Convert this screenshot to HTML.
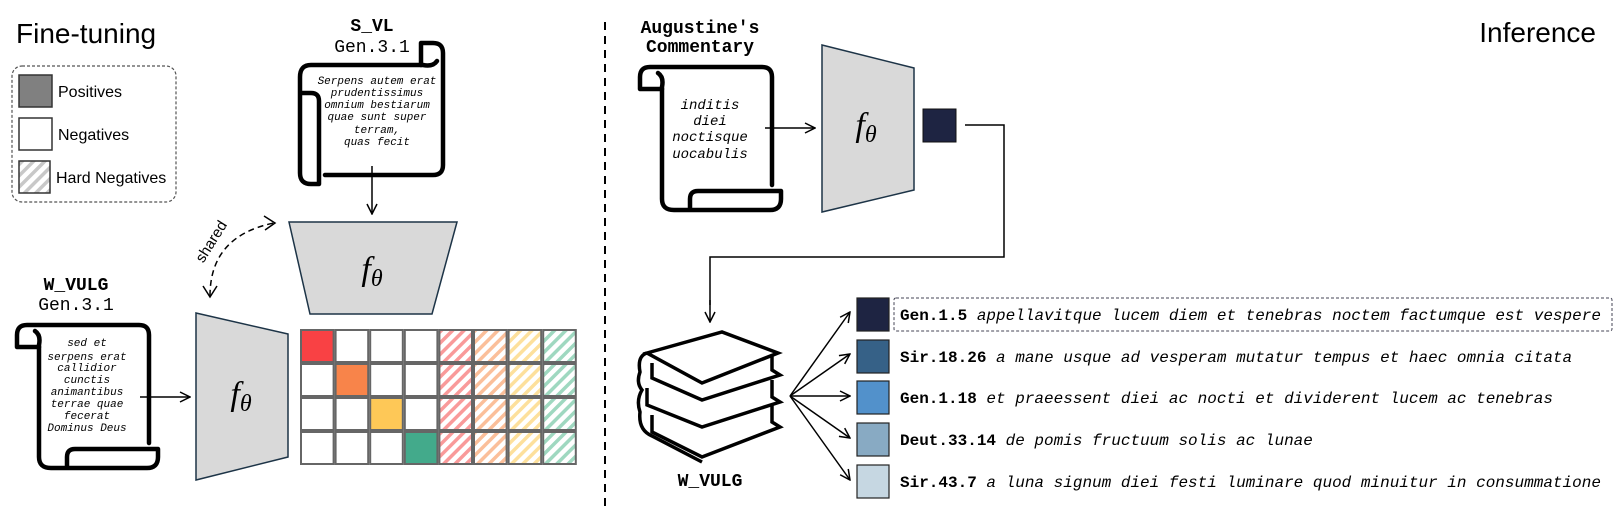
<!DOCTYPE html>
<html><head><meta charset="utf-8"><style>
html,body{margin:0;padding:0;background:#fff;}
svg{display:block;}
.mono{font-family:"Liberation Mono",monospace;}
.sans{font-family:"Liberation Sans",sans-serif;}
</style></head><body>
<svg width="1620" height="512" viewBox="0 0 1620 512" xmlns="http://www.w3.org/2000/svg">
<defs>
<marker id="ar" viewBox="0 0 12 12" refX="11" refY="6" markerWidth="12" markerHeight="12" markerUnits="userSpaceOnUse" orient="auto">
<path d="M1 1 L11 6 L1 11" fill="none" stroke="#000" stroke-width="1.5"/></marker>
<pattern id="hg" width="8" height="8" patternUnits="userSpaceOnUse" patternTransform="rotate(45)"><rect width="8" height="8" fill="#fff"/><rect width="3.5" height="8" fill="#c8c8c8"/></pattern>
<pattern id="hr" width="8" height="8" patternUnits="userSpaceOnUse" patternTransform="rotate(45)"><rect width="8" height="8" fill="#fff"/><rect width="3.5" height="8" fill="#f99a9a"/></pattern>
<pattern id="ho" width="8" height="8" patternUnits="userSpaceOnUse" patternTransform="rotate(45)"><rect width="8" height="8" fill="#fff"/><rect width="3.5" height="8" fill="#fbbf9a"/></pattern>
<pattern id="hy" width="8" height="8" patternUnits="userSpaceOnUse" patternTransform="rotate(45)"><rect width="8" height="8" fill="#fff"/><rect width="3.5" height="8" fill="#fde09c"/></pattern>
<pattern id="hn" width="8" height="8" patternUnits="userSpaceOnUse" patternTransform="rotate(45)"><rect width="8" height="8" fill="#fff"/><rect width="3.5" height="8" fill="#9fd8c0"/></pattern>
<g id="scroll" fill="none" stroke="#000" stroke-width="4.5" stroke-linejoin="round" stroke-linecap="round">
<path d="M26 24 H4 V12 Q4 2 14 2 H126 Q136 2 136 12 V120"/>
<path d="M22 8 Q28 12 26 22 V134 Q26 145 38 145 H134 Q145 145 145 134 V126 H62 Q54 126 54 134 V145"/>
</g>
</defs>

<line x1="605" y1="22" x2="605" y2="512" stroke="#000" stroke-width="2" stroke-dasharray="8,6"/>

<text x="16" y="43" class="sans" font-size="28">Fine-tuning</text>
<text x="1596" y="42" class="sans" font-size="28" text-anchor="end">Inference</text>

<rect x="12" y="66" width="164" height="136" rx="10" fill="#fff" stroke="#555" stroke-width="1.2" stroke-dasharray="3,2"/>
<rect x="19" y="75" width="33" height="32" fill="#808080" stroke="#333" stroke-width="1.5"/>
<rect x="19" y="118" width="33" height="32" fill="#fff" stroke="#333" stroke-width="1.5"/>
<rect x="19" y="161" width="31" height="32" fill="url(#hg)" stroke="#333" stroke-width="1.5"/>
<text x="58" y="97" class="sans" font-size="16">Positives</text>
<text x="58" y="140" class="sans" font-size="16">Negatives</text>
<text x="56" y="183" class="sans" font-size="16">Hard Negatives</text>

<!-- S_VL -->
<text x="372" y="31" class="mono" font-size="18" font-weight="bold" text-anchor="middle">S_VL</text>
<text x="372" y="52" class="mono" font-size="18" text-anchor="middle">Gen.3.1</text>
<use href="#scroll" transform="translate(445 39) rotate(90)"/>
<g class="mono" font-size="11" font-style="italic" text-anchor="middle">
<text x="377" y="84">Serpens autem erat</text>
<text x="377" y="96">prudentissimus</text>
<text x="377" y="108">omnium bestiarum</text>
<text x="377" y="120">quae sunt super</text>
<text x="377" y="133">terram,</text>
<text x="377" y="145">quas fecit</text>
</g>
<line x1="372" y1="166" x2="372" y2="214" stroke="#000" stroke-width="1.5" marker-end="url(#ar)"/>

<polygon points="289,222 457,222 432,314 310,314" fill="#d9d9d9" stroke="#1d3447" stroke-width="1.5"/>
<text x="372" y="280" font-family="Liberation Serif,serif" font-style="italic" font-size="34" text-anchor="middle">f<tspan font-size="24" dy="6">θ</tspan></text>

<path d="M210 296 Q210 236 274 223" fill="none" stroke="#000" stroke-width="1.5" stroke-dasharray="6,4"/>
<path d="M264 216 L275 223 L265 230" fill="none" stroke="#000" stroke-width="1.5"/>
<path d="M203 286 L210 297 L217 286" fill="none" stroke="#000" stroke-width="1.5"/>
<text x="212" y="246" class="sans" font-size="15" text-anchor="middle" transform="rotate(-58 212 242)">shared</text>

<text x="76" y="290" class="mono" font-size="18" font-weight="bold" text-anchor="middle">W_VULG</text>
<text x="76" y="310" class="mono" font-size="18" text-anchor="middle">Gen.3.1</text>
<use href="#scroll" transform="translate(13 323)"/>
<g class="mono" font-size="11" font-style="italic" text-anchor="middle">
<text x="87" y="346">sed et</text>
<text x="87" y="360">serpens erat</text>
<text x="87" y="371">callidior</text>
<text x="87" y="383">cunctis</text>
<text x="87" y="395">animantibus</text>
<text x="87" y="407">terrae quae</text>
<text x="87" y="419">fecerat</text>
<text x="87" y="431">Dominus Deus</text>
</g>
<line x1="140" y1="397" x2="190" y2="397" stroke="#000" stroke-width="1.5" marker-end="url(#ar)"/>

<polygon points="196,313 288,334 288,457 196,480" fill="#d9d9d9" stroke="#1d3447" stroke-width="1.5"/>
<text x="241" y="405" font-family="Liberation Serif,serif" font-style="italic" font-size="34" text-anchor="middle">f<tspan font-size="24" dy="6">θ</tspan></text>

<g stroke="#666" stroke-width="2">
<rect x="301" y="330" width="32.6" height="32" fill="#f94144"/>
<rect x="335.6" y="330" width="32.6" height="32" fill="#fff"/>
<rect x="370.2" y="330" width="32.6" height="32" fill="#fff"/>
<rect x="404.8" y="330" width="32.6" height="32" fill="#fff"/>
<rect x="301" y="364" width="32.6" height="32" fill="#fff"/>
<rect x="335.6" y="364" width="32.6" height="32" fill="#f8844a"/>
<rect x="370.2" y="364" width="32.6" height="32" fill="#fff"/>
<rect x="404.8" y="364" width="32.6" height="32" fill="#fff"/>
<rect x="301" y="398" width="32.6" height="32" fill="#fff"/>
<rect x="335.6" y="398" width="32.6" height="32" fill="#fff"/>
<rect x="370.2" y="398" width="32.6" height="32" fill="#fec857"/>
<rect x="404.8" y="398" width="32.6" height="32" fill="#fff"/>
<rect x="301" y="432" width="32.6" height="32" fill="#fff"/>
<rect x="335.6" y="432" width="32.6" height="32" fill="#fff"/>
<rect x="370.2" y="432" width="32.6" height="32" fill="#fff"/>
<rect x="404.8" y="432" width="32.6" height="32" fill="#43aa8b"/>
<rect x="439.4" y="330" width="32.6" height="32" fill="url(#hr)"/><rect x="474" y="330" width="32.6" height="32" fill="url(#ho)"/><rect x="508.6" y="330" width="32.6" height="32" fill="url(#hy)"/><rect x="543.2" y="330" width="32.6" height="32" fill="url(#hn)"/>
<rect x="439.4" y="364" width="32.6" height="32" fill="url(#hr)"/><rect x="474" y="364" width="32.6" height="32" fill="url(#ho)"/><rect x="508.6" y="364" width="32.6" height="32" fill="url(#hy)"/><rect x="543.2" y="364" width="32.6" height="32" fill="url(#hn)"/>
<rect x="439.4" y="398" width="32.6" height="32" fill="url(#hr)"/><rect x="474" y="398" width="32.6" height="32" fill="url(#ho)"/><rect x="508.6" y="398" width="32.6" height="32" fill="url(#hy)"/><rect x="543.2" y="398" width="32.6" height="32" fill="url(#hn)"/>
<rect x="439.4" y="432" width="32.6" height="32" fill="url(#hr)"/><rect x="474" y="432" width="32.6" height="32" fill="url(#ho)"/><rect x="508.6" y="432" width="32.6" height="32" fill="url(#hy)"/><rect x="543.2" y="432" width="32.6" height="32" fill="url(#hn)"/>
</g>

<text x="700" y="33" class="mono" font-size="18" font-weight="bold" text-anchor="middle">Augustine's</text>
<text x="700" y="52" class="mono" font-size="18" font-weight="bold" text-anchor="middle">Commentary</text>
<use href="#scroll" transform="translate(636 65)"/>
<g class="mono" font-size="14" font-style="italic" text-anchor="middle">
<text x="710" y="109">inditis</text>
<text x="710" y="125">diei</text>
<text x="710" y="141">noctisque</text>
<text x="710" y="158">uocabulis</text>
</g>
<line x1="765" y1="128" x2="815" y2="128" stroke="#000" stroke-width="1.5" marker-end="url(#ar)"/>
<polygon points="822,45 914,68 914,190 822,212" fill="#d9d9d9" stroke="#1d3447" stroke-width="1.5"/>
<text x="866" y="136" font-family="Liberation Serif,serif" font-style="italic" font-size="34" text-anchor="middle">f<tspan font-size="24" dy="6">θ</tspan></text>
<rect x="923" y="109" width="33" height="33" fill="#1e2442" stroke="#111" stroke-width="1"/>
<polyline points="965,125 1004,125 1004,257 710,257 710,305" fill="none" stroke="#000" stroke-width="1.5"/>
<line x1="710" y1="300" x2="710" y2="322" stroke="#000" stroke-width="1.5" marker-end="url(#ar)"/>

<g fill="#fff" stroke="#000" stroke-width="3.5" stroke-linejoin="miter">
<path d="M652 415 L652 432 L702 457 L780 427 L772 422 L772 405"/>
<path d="M647 388 L647 405 L702 427 L780 402 L772 397 L772 380"/>
<path d="M652 363 L652 378 L702 400 L780 375 L772 370 L772 353"/>
<polygon points="647,353 722,332 778,353 702,383"/>
<path d="M647 353 Q637 356 640 372 Q636 383 642 390 Q636 400 640 412 Q638 430 652 436 L702 462" fill="none"/>
</g>
<text x="710" y="486" class="mono" font-size="18" font-weight="bold" text-anchor="middle">W_VULG</text>

<g stroke="#000" stroke-width="1.5">
<line x1="790" y1="396" x2="850" y2="312" marker-end="url(#ar)"/>
<line x1="790" y1="396" x2="850" y2="354" marker-end="url(#ar)"/>
<line x1="790" y1="396" x2="850" y2="396" marker-end="url(#ar)"/>
<line x1="790" y1="396" x2="850" y2="438" marker-end="url(#ar)"/>
<line x1="790" y1="396" x2="850" y2="480" marker-end="url(#ar)"/>
</g>

<g stroke="#222" stroke-width="1.2">
<rect x="857" y="298" width="32" height="33" fill="#1e2442"/>
<rect x="857" y="340" width="32" height="33" fill="#366187"/>
<rect x="857" y="381" width="32" height="33" fill="#5291cb"/>
<rect x="857" y="423" width="32" height="33" fill="#88aac3"/>
<rect x="857" y="465" width="32" height="33" fill="#c6d7e2"/>
</g>
<rect x="894" y="298" width="718" height="33" rx="2" fill="none" stroke="#445" stroke-width="1" stroke-dasharray="3,2"/>
<g class="mono" font-size="16">
<text x="900" y="320"><tspan font-weight="bold">Gen.1.5</tspan> <tspan font-style="italic">appellavitque lucem diem et tenebras noctem factumque est vespere</tspan></text>
<text x="900" y="362"><tspan font-weight="bold">Sir.18.26</tspan> <tspan font-style="italic">a mane usque ad vesperam mutatur tempus et haec omnia citata</tspan></text>
<text x="900" y="403"><tspan font-weight="bold">Gen.1.18</tspan> <tspan font-style="italic">et praeessent diei ac nocti et dividerent lucem ac tenebras</tspan></text>
<text x="900" y="445"><tspan font-weight="bold">Deut.33.14</tspan> <tspan font-style="italic">de pomis fructuum solis ac lunae</tspan></text>
<text x="900" y="487"><tspan font-weight="bold">Sir.43.7</tspan> <tspan font-style="italic">a luna signum diei festi luminare quod minuitur in consummatione</tspan></text>
</g>
</svg>
</body></html>
